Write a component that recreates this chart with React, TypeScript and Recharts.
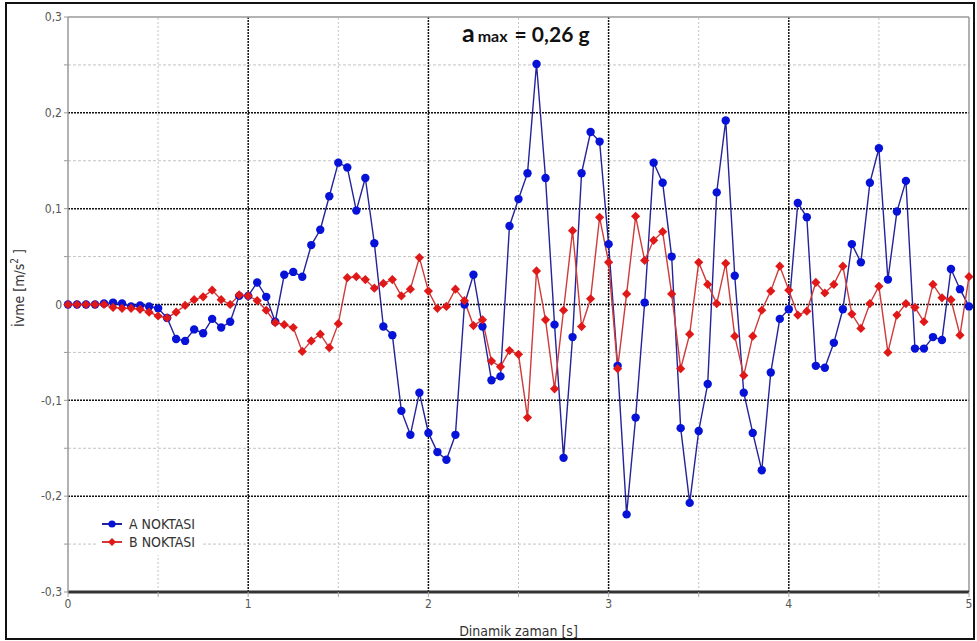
import { LineChart, Line, XAxis, YAxis, ReferenceLine, Legend } from "recharts";

// Time steps [s]
const times = [
  0, 0.05, 0.1, 0.15, 0.2, 0.25, 0.3, 0.35, 0.4, 0.45, 0.5, 0.55, 0.6, 0.65, 0.7, 0.75, 0.8, 0.85, 0.9, 0.95,
  1, 1.05, 1.1, 1.15, 1.2, 1.25, 1.3, 1.35, 1.4, 1.45, 1.5, 1.55, 1.6, 1.65, 1.7, 1.75, 1.8, 1.85, 1.9, 1.95,
  2, 2.05, 2.1, 2.15, 2.2, 2.25, 2.3, 2.35, 2.4, 2.45, 2.5, 2.55, 2.6, 2.65, 2.7, 2.75, 2.8, 2.85, 2.9, 2.95,
  3, 3.05, 3.1, 3.15, 3.2, 3.25, 3.3, 3.35, 3.4, 3.45, 3.5, 3.55, 3.6, 3.65, 3.7, 3.75, 3.8, 3.85, 3.9, 3.95,
  4, 4.05, 4.1, 4.15, 4.2, 4.25, 4.3, 4.35, 4.4, 4.45, 4.5, 4.55, 4.6, 4.65, 4.7, 4.75, 4.8, 4.85, 4.9, 4.95,
  5,
];

// A NOKTASI acceleration [m/s2]
const aNoktasi = [
  0, 0, 0, 0, 0.001, 0.002, 0.001, -0.002, -0.001, -0.002, -0.004, -0.014, -0.036, -0.038, -0.026, -0.03, -0.015, -0.024, -0.018, 0.009,
  0.009, 0.023, 0.008, -0.018, 0.031, 0.034, 0.029, 0.062, 0.078, 0.113, 0.148, 0.143, 0.098, 0.132, 0.064, -0.023, -0.032, -0.111, -0.136, -0.092,
  -0.134, -0.154, -0.162, -0.136, 0.0, 0.031, -0.023, -0.079, -0.075, 0.082, 0.11, 0.137, 0.251, 0.132, -0.021, -0.16, -0.034, 0.137, 0.18, 0.17,
  0.063, -0.064, -0.219, -0.118, 0.002, 0.148, 0.127, 0.05, -0.129, -0.207, -0.132, -0.083, 0.117, 0.192, 0.03, -0.092, -0.134, -0.173, -0.071, -0.015,
  -0.005, 0.106, 0.091, -0.064, -0.066, -0.04, -0.005, 0.063, 0.044, 0.127, 0.163, 0.026, 0.097, 0.129, -0.046, -0.046, -0.034, -0.037, 0.037, 0.016,
  -0.002,
];

// B NOKTASI acceleration [m/s2]
const bNoktasi = [
  0, 0, 0, 0, 0, -0.003, -0.004, -0.004, -0.005, -0.008, -0.012, -0.014, -0.008, -0.001, 0.005, 0.008, 0.015, 0.005, 0.0, 0.01,
  0.009, 0.004, -0.006, -0.019, -0.021, -0.024, -0.049, -0.038, -0.031, -0.045, -0.02, 0.028, 0.029, 0.026, 0.017, 0.022, 0.026, 0.009, 0.016, 0.049,
  0.014, -0.004, -0.002, 0.016, 0.004, -0.022, -0.016, -0.059, -0.065, -0.048, -0.052, -0.118, 0.035, -0.016, -0.088, -0.006, 0.077, -0.023, 0.006, 0.091,
  0.044, -0.067, 0.011, 0.092, 0.046, 0.067, 0.076, 0.011, -0.067, -0.031, 0.044, 0.021, 0.001, 0.043, -0.033, -0.074, -0.033, -0.006, 0.014, 0.04,
  0.015, -0.011, -0.007, 0.023, 0.012, 0.021, 0.04, -0.01, -0.025, 0.001, 0.019, -0.05, -0.011, 0.001, -0.003, -0.018, 0.021, 0.007, 0.005, -0.032,
  0.029,
];

const xTicks = [0, 0.5, 1, 1.5, 2, 2.5, 3, 3.5, 4, 4.5, 5];
const yTicks = [-0.3, -0.25, -0.2, -0.15, -0.1, -0.05, 0, 0.05, 0.1, 0.15, 0.2, 0.25, 0.3];
const majorX = [1, 2, 3, 4];
const minorX = [0.5, 1.5, 2.5, 3.5, 4.5];
const majorY = [-0.2, -0.1, 0, 0.1, 0.2];
const minorY = [-0.25, -0.15, -0.05, 0.05, 0.15, 0.25];

const data = times.map((t, i) => ({ t, a: aNoktasi[i], b: bNoktasi[i] }));

const FONT = "'DejaVu Sans Condensed', 'Liberation Sans Narrow', sans-serif";
const BLUE_LINE = "#23239a";
const BLUE_DOT = "#0612d8";
const RED_LINE = "#cf3a3a";
const RED_DOT = "#e01818";

const fmtX = (v: number) => (Number.isInteger(v) ? String(v) : "");
const fmtY = (v: number) => {
  const r = Math.round(v * 100);
  if (r % 10 !== 0) return "";
  return String(r / 100).replace(".", ",");
};

const BlueDot = (props: any) => {
  const { cx, cy, index } = props;
  if (cx == null || cy == null) return <g key={`a${index}`} />;
  return <circle key={`a${index}`} cx={cx} cy={cy} r={4.2} fill={BLUE_DOT} />;
};

const RedDot = (props: any) => {
  const { cx, cy, index } = props;
  if (cx == null || cy == null) return <g key={`b${index}`} />;
  const s = 4.6;
  return (
    <polygon
      key={`b${index}`}
      points={`${cx},${cy - s} ${cx + s},${cy} ${cx},${cy + s} ${cx - s},${cy}`}
      fill={RED_DOT}
    />
  );
};

const LegendBox = (props: any) => {
  const items = props.payload || [];
  return (
    <div style={{ background: "#fff", padding: "4px 6px 4px 4px", fontFamily: FONT, fontSize: 14, color: "#333" }}>
      {items.map((it: any) => {
        const isA = it.dataKey === "a";
        return (
          <div key={it.value} style={{ display: "flex", alignItems: "center", height: 18 }}>
            <svg width={22} height={12} style={{ marginRight: 6 }}>
              <line x1={1} y1={6} x2={21} y2={6} stroke={isA ? BLUE_LINE : RED_LINE} strokeWidth={2} />
              {isA ? (
                <circle cx={11} cy={6} r={3.6} fill={BLUE_DOT} />
              ) : (
                <polygon points="11,2 15,6 11,10 7,6" fill={RED_DOT} />
              )}
            </svg>
            <span>{it.value}</span>
          </div>
        );
      })}
    </div>
  );
};

const YLabel = () => (
  <text
    x={24}
    y={288}
    transform="rotate(-90 24 288)"
    textAnchor="middle"
    fontFamily={FONT}
    fontSize={14}
    fill="#333"
  >
    İvme [m/s
    <tspan fontSize={10} dy={-6}>2</tspan>
    <tspan dy={6}> ]</tspan>
  </text>
);

export default function App() {
  return (
    <div style={{ position: "absolute", left: 0, top: 0, width: 977, height: 641, background: "#fff" }}>
      <LineChart width={977} height={641} data={data} margin={{ top: 17, right: 8, left: 0, bottom: 0 }}>
        {minorX.map((v) => (
          <ReferenceLine key={`mx${v}`} x={v} stroke="#c4c4c4" strokeDasharray="2 2" strokeWidth={1} />
        ))}
        {minorY.map((v) => (
          <ReferenceLine key={`my${v}`} y={v} stroke="#c4c4c4" strokeDasharray="3 2" strokeWidth={1} />
        ))}
        {majorX.map((v) => (
          <ReferenceLine key={`gx${v}`} x={v} stroke="#111" strokeDasharray="2 1" strokeWidth={1.5} />
        ))}
        {majorY.map((v) => (
          <ReferenceLine key={`gy${v}`} y={v} stroke="#111" strokeDasharray="2 1" strokeWidth={1.5} />
        ))}
        <ReferenceLine y={0.3} stroke="#999" strokeWidth={1.5} />
        <ReferenceLine x={5} stroke="#999" strokeWidth={1.5} />
        <XAxis
          dataKey="t"
          type="number"
          domain={[0, 5]}
          ticks={xTicks}
          tickFormatter={fmtX}
          interval={0}
          height={49}
          axisLine={{ stroke: "#333", strokeWidth: 3 }}
          tickLine={{ stroke: "#aaa" }}
          tickSize={5}
          tick={{ fontFamily: FONT, fontSize: 12, fill: "#555" }}
          label={{
            value: "Dinamik zaman [s]",
            position: "insideBottom",
            offset: 5,
            fontFamily: FONT,
            fontSize: 14,
            fill: "#333",
          }}
        />
        <YAxis
          type="number"
          domain={[-0.3, 0.3]}
          ticks={yTicks}
          tickFormatter={fmtY}
          interval={0}
          width={68}
          axisLine={{ stroke: "#999", strokeWidth: 1.5 }}
          tickLine={{ stroke: "#999" }}
          tickSize={4}
          tick={{ fontFamily: FONT, fontSize: 12, fill: "#555" }}
          label={{ content: () => <YLabel /> }}
        />
        <Legend
          layout="vertical"
          align="center"
          verticalAlign="middle"
          content={<LegendBox />}
          wrapperStyle={{ left: 97, top: 511, width: "auto", height: "auto" }}
        />
        <Line
          dataKey="a"
          name="A NOKTASI"
          stroke={BLUE_LINE}
          strokeWidth={1.4}
          dot={BlueDot}
          activeDot={false}
          isAnimationActive={false}
        />
        <Line
          dataKey="b"
          name="B NOKTASI"
          stroke={RED_LINE}
          strokeWidth={1.4}
          dot={RedDot}
          activeDot={false}
          isAnimationActive={false}
        />
      </LineChart>
      <svg
        width={977}
        height={641}
        style={{ position: "absolute", left: 0, top: 0, pointerEvents: "none" }}
      >
        <rect x={6} y={3} width={968} height={636} fill="none" stroke="#111" strokeWidth={2} />
        <text y={42} fontFamily="Lato, 'Open Sans', sans-serif" fontWeight={700} fill="#111">
          <tspan x={462} fontSize={25}>a</tspan>
          <tspan dx={3} fontSize={16}>max</tspan>
          <tspan dx={7} fontSize={21}>= 0,26 g</tspan>
        </text>
      </svg>
    </div>
  );
}
